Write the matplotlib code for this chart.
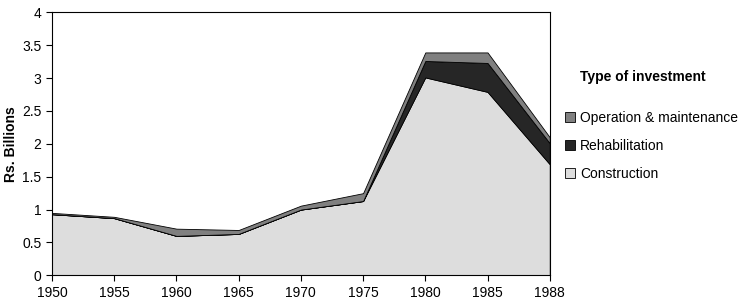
import matplotlib.pyplot as plt
import numpy as np

plt.rcParams["font.family"] = ["Liberation Sans", "DejaVu Sans"]

years = ["1950", "1955", "1960", "1965", "1970", "1975", "1980", "1985", "1988"]
construction = [0.93, 0.87, 0.60, 0.63, 1.00, 1.13, 3.01, 2.79, 1.69]
rehabilitation = [0.0, 0.0, 0.0, 0.0, 0.0, 0.0, 0.25, 0.44, 0.32]
operation = [0.02, 0.02, 0.11, 0.06, 0.06, 0.12, 0.13, 0.16, 0.09]

labels = ["Construction", "Rehabilitation", "Operation & maintenance"]
colors = ["#dddddd", "#262626", "#808080"]

fig = plt.figure(figsize=(7.5, 3.08), dpi=100)
ax = fig.add_axes([0.0693, 0.106, 0.6637, 0.854])

x = np.arange(len(years))
polys = ax.stackplot(x, construction, rehabilitation, operation,
                     colors=colors, edgecolor="black", linewidth=0.6, labels=labels)

ax.set_xlim(0, len(years) - 1)
ax.set_ylim(0, 4)
ax.set_xticks(x)
ax.set_xticklabels(years)
ax.set_yticks([0, 0.5, 1, 1.5, 2, 2.5, 3, 3.5, 4])
ax.set_yticklabels(["0", "0.5", "1", "1.5", "2", "2.5", "3", "3.5", "4"])
ax.tick_params(direction="out", length=4, width=0.8, labelsize=10, colors="black")
for s in ax.spines.values():
    s.set_linewidth(0.8)
ax.set_ylabel("Rs. Billions", fontsize=10, fontweight="bold", labelpad=3)

fig.text(580 / 750, 1 - 77 / 308, "Type of investment", fontsize=10,
         fontweight="bold", va="center", ha="left")

handles = polys[::-1]
ax.legend(handles, labels[::-1], loc="upper left", bbox_to_anchor=(1.03, 0.624),
          frameon=False, fontsize=10, borderpad=0, borderaxespad=0,
          handlelength=0.75, handleheight=0.75, handletextpad=0.35,
          labelspacing=1.0)

fig.savefig("out.png", dpi=100)
